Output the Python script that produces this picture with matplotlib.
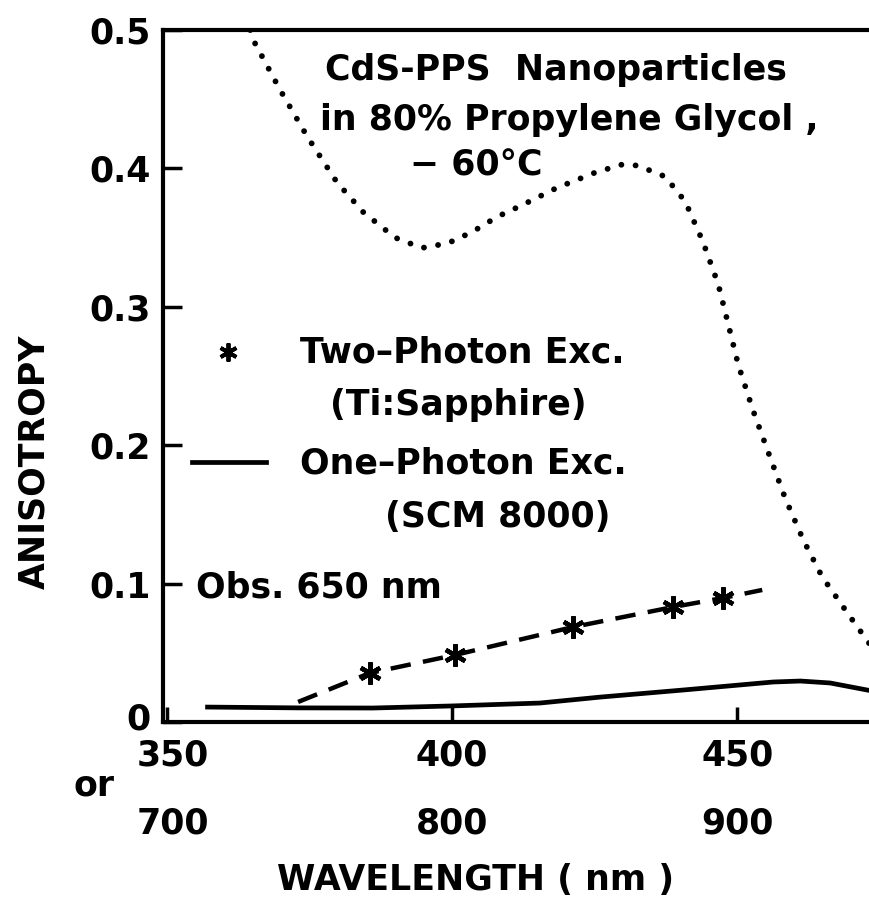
import matplotlib
matplotlib.use("Agg")
import matplotlib.pyplot as plt
import matplotlib.transforms as mtransforms
from matplotlib.lines import Line2D

# ---- data ----
dotted_wl = [364.6, 365.1, 369.8, 374.6, 379.8, 384.4, 390.0, 394.7, 399.3, 403.5,
             407.9, 412.3, 418.4, 425.1, 430.0, 432.6, 437.4, 440.9, 444.0, 446.7,
             448.4, 450.2, 452.8, 455.8, 458.4, 461.6, 464.9, 469.3, 473.3]
dotted_r = [0.500, 0.493, 0.457, 0.423, 0.390, 0.3685, 0.350, 0.3425, 0.346, 0.354,
            0.365, 0.3735, 0.386, 0.397, 0.403, 0.402, 0.394, 0.376, 0.347, 0.316,
            0.288, 0.258, 0.225, 0.191, 0.162, 0.1315, 0.105, 0.079, 0.056]

two_photon_wl = [385.6, 400.5, 421.2, 438.8, 447.5]
two_photon_r = [0.0354, 0.0484, 0.0686, 0.0831, 0.0896]

fit_wl = [373.0, 385.6, 400.5, 421.2, 438.8, 447.5, 454.4]
fit_r = [0.0145, 0.0354, 0.0484, 0.0686, 0.0831, 0.0896, 0.0954]

one_photon_wl = [356.7, 373.0, 386.1, 400.0, 415.4, 426.0, 440.5, 456.3, 461.1, 466.3, 472.8, 474.0]
one_photon_r = [0.0108, 0.0102, 0.0101, 0.0116, 0.0137, 0.0180, 0.0231, 0.0289, 0.0296, 0.0282, 0.0231, 0.0222]

xticks = [350, 400, 450]
xlabels_one = ["350", "400", "450"]
xlabels_two = ["700", "800", "900"]
yticks = [0, 0.1, 0.2, 0.3, 0.4, 0.5]
ylabels = ["0", "0.1", "0.2", "0.3", "0.4", "0.5"]

# ---- figure ----
W, H = 870, 900
fig = plt.figure(figsize=(W / 100, H / 100), dpi=100)
plt.rcParams['font.family'] = ['DejaVu Sans']
plt.rcParams['font.weight'] = 'bold'
FS = 25
TXT = dict(fontsize=FS, fontweight="bold")

ax = fig.add_axes([163 / W, 1 - 722 / H, 1 - 163 / W, (722 - 30) / H])
ax.set_xlim(349.3, 473.3)
ax.set_ylim(0, 0.5)

for s in ["left", "bottom", "top"]:
    ax.spines[s].set_linewidth(3.0)
ax.spines["right"].set_visible(False)

ax.plot(dotted_wl, dotted_r, color="black", lw=4.2,
        linestyle=(0, (0.01, 2.45)), dash_capstyle="round", solid_capstyle="round")
ax.plot(one_photon_wl, one_photon_r, color="black", lw=3.4, solid_capstyle="butt")
ax.plot(fit_wl, fit_r, color="black", lw=3.2, linestyle=(0, (4.6, 2.8)))
ax.plot(two_photon_wl, two_photon_r, linestyle="none", marker=(6, 2, 0),
        markersize=16, markeredgewidth=3.2, color="black")

ax.set_xticks(xticks)
ax.set_xticklabels([])
ax.tick_params(axis="x", direction="in", length=11, width=2.5)
ax.set_yticks(yticks)
ax.set_yticklabels(ylabels, **TXT)
ax.tick_params(axis="y", direction="in", length=14, width=2.5, pad=9)
# lift the "0" label a little, as in the reference
zero_lbl = ax.get_yticklabels()[0]
zero_lbl.set_transform(zero_lbl.get_transform() +
                       mtransforms.ScaledTranslation(0, 6 / 100, fig.dpi_scale_trans))

for xt, l1, l2 in zip(xticks, xlabels_one, xlabels_two):
    off = 6 if xt == 350 else 0
    xp = ax.transData.transform((xt, 0))[0] + off
    fig.text(xp / W, 1 - 755 / H, l1, ha="center", va="center", **TXT)
    fig.text(xp / W, 1 - 823 / H, l2, ha="center", va="center", **TXT)

fig.text(94 / W, 1 - 786 / H, "or", ha="center", va="center", **TXT)
fig.text(476 / W, 1 - 880 / H, "WAVELENGTH ( nm )", ha="center", va="center", **TXT)
fig.text(34 / W, 1 - 462 / H, "ANISOTROPY", ha="center", va="center",
         rotation=90, **TXT)

# annotation block
fig.text(325 / W, 1 - 70 / H, "CdS-PPS  Nanoparticles", ha="left", va="center", **TXT)
fig.text(320 / W, 1 - 120 / H, "in 80% Propylene Glycol ,", ha="left", va="center", **TXT)
fig.text(410 / W, 1 - 166 / H, "\u2212 60°C", ha="left", va="center", **TXT)

# legend
fig.text(300 / W, 1 - 352 / H, "Two\u2013Photon Exc.", ha="left", va="center", **TXT)
fig.text(330 / W, 1 - 405 / H, "(Ti:Sapphire)", ha="left", va="center", **TXT)
fig.text(300 / W, 1 - 464 / H, "One\u2013Photon Exc.", ha="left", va="center", **TXT)
fig.text(385 / W, 1 - 517 / H, "(SCM 8000)", ha="left", va="center", **TXT)
fig.text(196 / W, 1 - 588 / H, "Obs. 650 nm", ha="left", va="center", **TXT)

fig.add_artist(Line2D([228 / W], [1 - 352 / H], marker=(6, 2, 0), markersize=13,
                      markeredgewidth=2.8, color="black", linestyle="none"))
fig.add_artist(Line2D([192 / W, 266 / W], [1 - 462 / H, 1 - 462 / H], color="black", lw=3.4))

fig.savefig("out.png", dpi=100)
